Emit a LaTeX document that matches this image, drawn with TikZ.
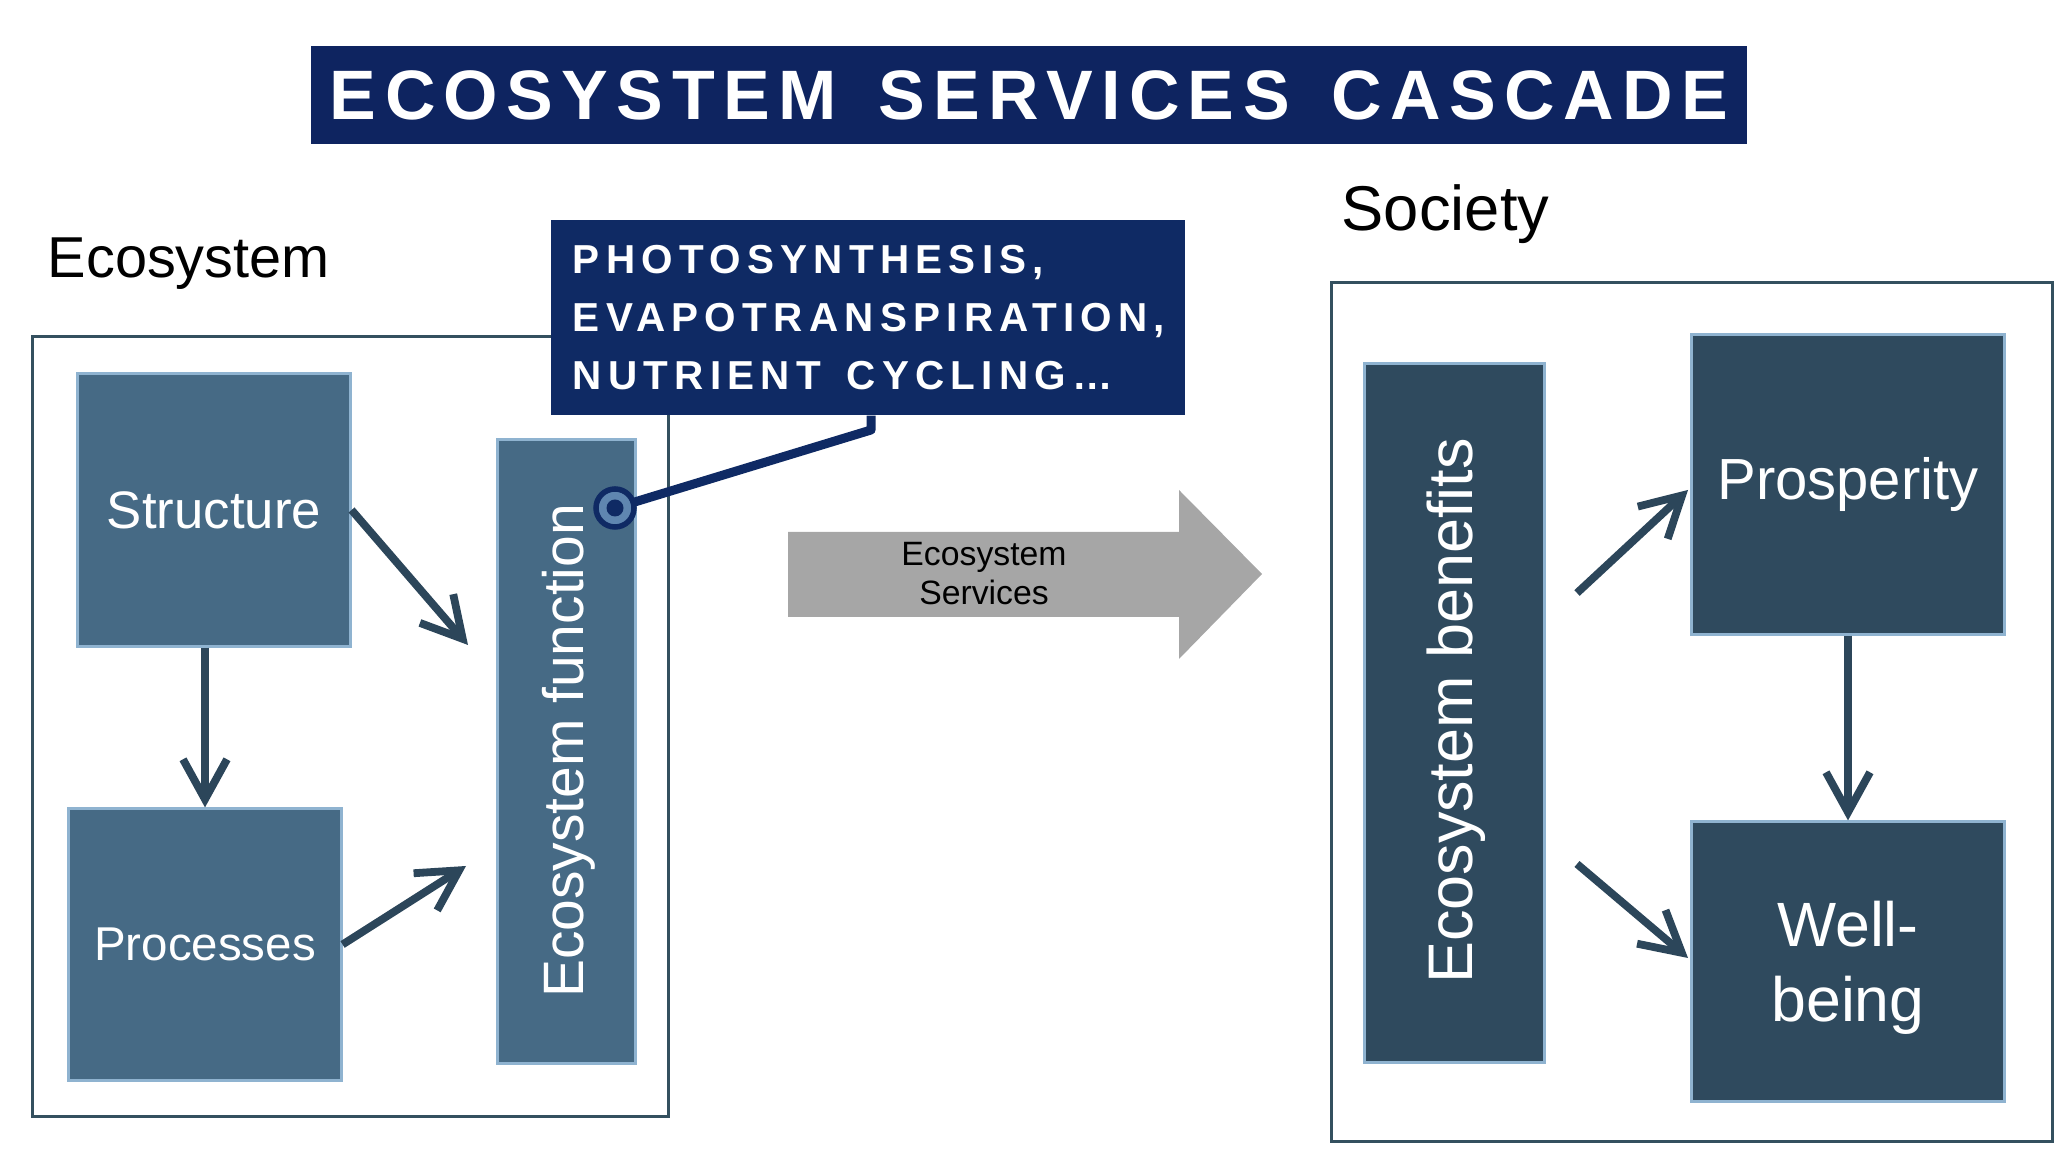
\documentclass[tikz,border=0pt]{standalone}
\usepackage{fontspec}
\setmainfont{Liberation Sans}
\newfontfamily\spacedfont[LetterSpace=12]{Liberation Sans}
\newfontfamily\calloutfont[LetterSpace=15.5]{Liberation Sans}
\usetikzlibrary{arrows.meta,calc}
\definecolor{navy}{HTML}{0E2460}
\definecolor{calloutc}{HTML}{0F2A64}
\definecolor{lblue}{HTML}{466A85}
\definecolor{rblue}{HTML}{2F4A5E}
\definecolor{lborder}{HTML}{8FB3D0}
\definecolor{arrc}{HTML}{2C465A}
\definecolor{framec}{HTML}{34505F}
\definecolor{arrgray}{HTML}{A6A6A6}
\definecolor{ringfill}{HTML}{5F86B0}
\begin{document}
\begin{tikzpicture}[x=0.01cm, y=-0.01cm,
  lbox/.style={fill=lblue, draw=lborder, line width=0.03cm, text=white, inner sep=0pt},
  rbox/.style={fill=rblue, draw=lborder, line width=0.03cm, text=white, inner sep=0pt},
  frame/.style={draw=framec, line width=0.027cm, inner sep=0pt},
  arr/.style={draw=arrc, line width=0.078cm, -{Straight Barb[length=0.4cm,width=0.44cm]}},
  lbl/.style={anchor=base west, inner sep=0pt, text=black}]
\useasboundingbox (0,0) rectangle (2066,1168);

% title
\node[fill=navy, minimum width=14.36cm, minimum height=0.98cm, inner sep=0pt, text=white,
  font=\spacedfont\bfseries\fontsize{19.9}{24}\selectfont] (title) at (1029,95)
  {ECOSYSTEM\hspace{0.14cm} SERVICES\hspace{0.14cm} CASCADE};

% frames
\node[frame, minimum width=6.35cm, minimum height=7.79cm] (ecoframe) at (350.5,726.5) {};
\node[frame, minimum width=7.20cm, minimum height=8.58cm] (socframe) at (1692,712) {};

% labels
\node[lbl, font=\fontsize{16.4}{19}\selectfont] (ecolabel) at (47,278) {Ecosystem};
\node[lbl, font=\fontsize{18}{21}\selectfont] (soclabel) at (1341,231) {Society};

% callout
\node[fill=calloutc, minimum width=6.34cm, minimum height=1.95cm, inner xsep=0.22cm, inner ysep=0pt,
  text width=5.9cm, align=left, text=white,
  font=\calloutfont\bfseries\fontsize{11.5}{16.5}\selectfont] (callout) at (868,317.5)
  {PHOTOSYNTHESIS,\\EVAPOTRANSPIRATION,\\NUTRIENT\hspace{0.12cm} CYCLING\dots};

% ecosystem boxes
\node[lbox, minimum width=2.72cm, minimum height=2.72cm, font=\fontsize{15}{18}\selectfont] (structure) at (214,510) {Structure};
\node[lbox, minimum width=2.72cm, minimum height=2.71cm, font=\fontsize{13.5}{16}\selectfont] (processes) at (205,944.5) {Processes};
\node[lbox, minimum width=1.37cm, minimum height=6.23cm] (func) at (566.5,751.5) {};
\node[rotate=90, text=white, inner sep=0pt, font=\fontsize{16.2}{19}\selectfont] (functext) at (569,751) {Ecosystem function};

% callout connector
\coordinate (knee) at (871,430);
\coordinate (dotc) at (615,508);
\draw[calloutc, line width=0.09cm, line join=round] (callout.south -| knee) -- (knee) -- (dotc);
\node[circle, draw=calloutc, line width=0.055cm, fill=ringfill, minimum size=0.38cm, inner sep=0pt] (dot) at (dotc) {};
\fill[calloutc] (dot.center) circle (0.085cm);

% ecosystem arrows
\coordinate (f1) at (468,645);
\coordinate (f2) at (466,866);
\draw[arr] (structure.east) -- (f1);
\draw[arr] (processes.east) -- (f2);
\draw[arr] (structure.south -| processes.center) -- (processes.north);

% big grey arrow
\fill[arrgray] (788,532) -- (1179,532) -- (1179,490) -- (1262,574) -- (1179,659) -- (1179,617) -- (788,617) -- cycle;
\node[align=center, text=black, inner sep=0pt, font=\fontsize{9.6}{11.1}\selectfont] (es) at (984,574) {Ecosystem\\Services};

% society boxes
\node[rbox, minimum width=1.79cm, minimum height=6.98cm] (benefits) at (1454.5,713) {};
\node[rotate=90, text=white, inner sep=0pt, font=\fontsize{17.9}{21}\selectfont] (benefitstext) at (1456,711) {Ecosystem benefits};
\node[rbox, minimum width=3.12cm, minimum height=2.99cm, font=\fontsize{16.5}{20}\selectfont] (prosperity) at (1848,484.5) {Prosperity};
\node[rbox, minimum width=3.12cm, minimum height=2.79cm] (wellbeing) at (1848,961.5) {};
\node[align=center, text=white, inner sep=0pt, font=\fontsize{17.8}{21.3}\selectfont] (wbtext) at (1848,968) {Well-\\being};

% society arrows
\coordinate (b1) at (1577,593);
\coordinate (p1) at (1688,490);
\coordinate (b2) at (1577,864);
\coordinate (w1) at (1688,958);
\draw[arr] (b1) -- (p1);
\draw[arr] (b2) -- (w1);
\draw[arr] (prosperity.south) -- (wellbeing.north);
\end{tikzpicture}
\end{document}
